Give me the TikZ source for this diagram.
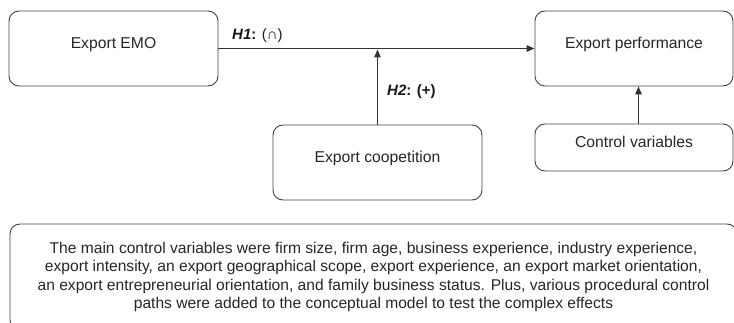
\documentclass[tikz,border=0pt]{standalone}
\usepackage{fontspec}
\setmainfont{Liberation Sans}
\usetikzlibrary{arrows.meta}

\begin{document}
\begin{tikzpicture}[x=1pt,y=-1pt,>={Triangle[length=8pt,width=6.5pt]},
    box/.style={draw=black!75,line width=0.9pt,rounded corners=10pt,
      text=black!85,font=\fontsize{15.7}{18}\selectfont,
      text height=6pt,text depth=6pt,inner sep=0pt},
    link/.style={->,draw=black!80,line width=1.4pt},
    hyp/.style={anchor=west,text=black!90,font=\fontsize{15}{18}\selectfont,inner sep=0pt}]
  \useasboundingbox (0,0) rectangle (734,323);

  % construct boxes
  \node[box,minimum width=209pt,minimum height=75pt] (emo)  at (113.5,48.5) {Export EMO};
  \node[box,minimum width=198pt,minimum height=75pt] (perf) at (634,48.5)   {Export performance};
  \node[box,minimum width=209pt,minimum height=75pt] (coop) at (377.5,162.5) {Export coopetition};
  \node[box,minimum width=198pt,minimum height=47pt] (ctrl) at (634,147.5)  {Control variables};

  % note on the control variables (runs past the page edge)
  \node[box,minimum width=727pt,minimum height=106pt,text height=,text depth=,
        align=center,font=\fontsize{15.6}{18.5}\selectfont] (notes) at (373.5,277)
    {The main control variables were firm size, firm age, business experience, industry experience,\\
     export intensity, an export geographical scope, export experience, an export market orientation,\\
     an export entrepreneurial orientation, and family business status. Plus, various procedural control\\
     paths were added to the conceptual model to test the complex effects};

  % paths
  \draw[link] (emo) -- (perf);
  \coordinate (hit) at (coop.north |- emo.east);
  \draw[link,shorten >=1pt] (coop) -- (hit);
  \draw[link] ([xshift=4.5pt]ctrl.north) -- ([xshift=4.5pt]perf.south);

  % hypotheses
  \node[hyp] (h1) at (232,36) {\textbf{\textit{H1}:} (∩)};
  \node[hyp] (h2) at (387,92) {\textbf{\textit{H2}: (+)}};
\end{tikzpicture}
\end{document}
